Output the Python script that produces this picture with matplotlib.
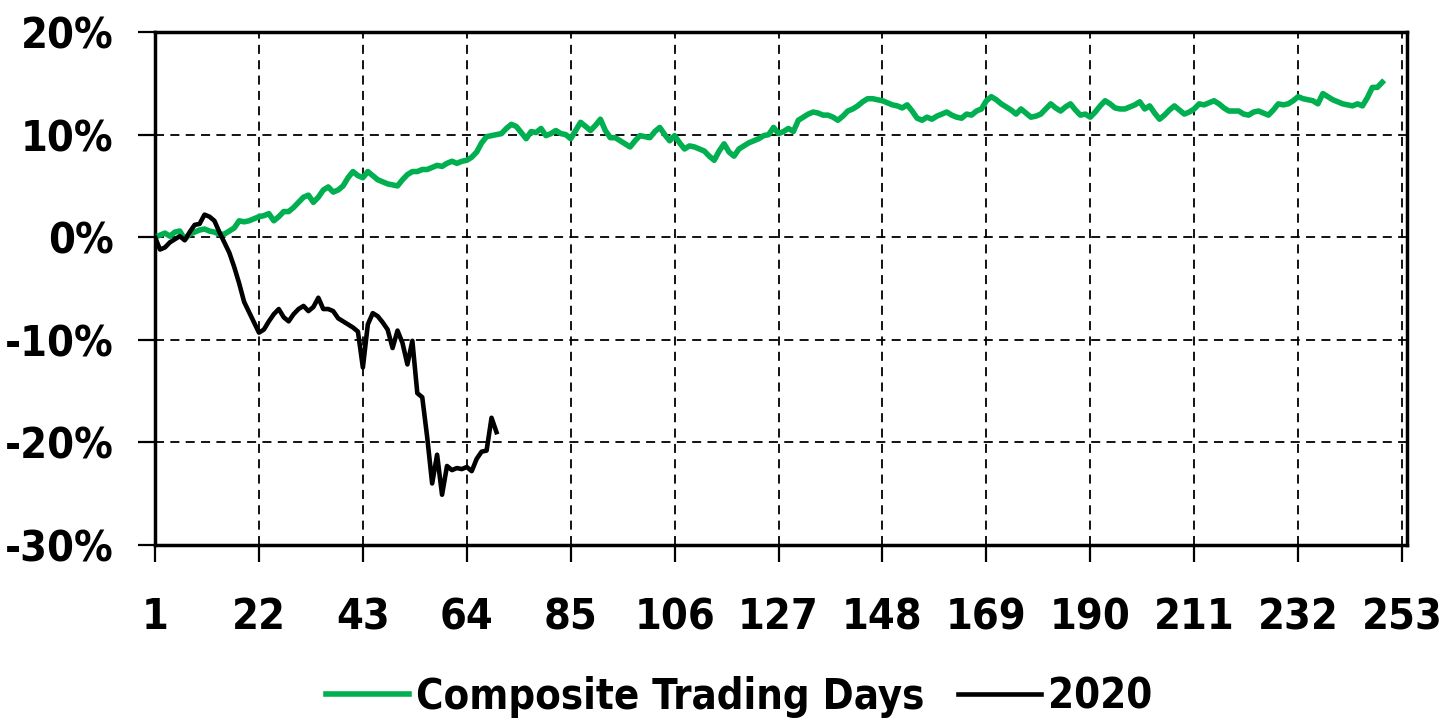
from matplotlib import pyplot as plt
from matplotlib.ticker import PercentFormatter
import numpy

# composite trading days (average path), percent
composite = [
	0.0, 0.2, 0.4, 0.1, 0.5, 0.6, -0.2, 0.3, 0.5, 0.7,
	0.8, 0.6, 0.5, 0.3, 0.3, 0.6, 0.9, 1.6, 1.5, 1.6,
	1.8, 2.0, 2.1, 2.3, 1.6, 2.0, 2.5, 2.5, 2.9, 3.4,
	3.9, 4.1, 3.4, 3.9, 4.6, 4.9, 4.4, 4.6, 5.0, 5.8,
	6.4, 6.0, 5.8, 6.4, 6.0, 5.6, 5.4, 5.2, 5.1, 5.0,
	5.6, 6.1, 6.4, 6.4, 6.6, 6.6, 6.8, 7.0, 6.9, 7.2,
	7.4, 7.2, 7.4, 7.5, 7.8, 8.3, 9.2, 9.8, 9.9, 10.0,
	10.1, 10.6, 11.0, 10.8, 10.2, 9.6, 10.3, 10.2, 10.6, 9.9,
	10.1, 10.4, 10.1, 10.0, 9.6, 10.4, 11.2, 10.8, 10.4, 10.9,
	11.5, 10.4, 9.7, 9.7, 9.4, 9.1, 8.8, 9.4, 9.9, 9.8,
	9.7, 10.3, 10.7, 10.0, 9.4, 9.9, 9.2, 8.6, 8.9, 8.8,
	8.6, 8.4, 7.9, 7.5, 8.4, 9.1, 8.3, 7.9, 8.6, 8.9,
	9.2, 9.4, 9.6, 9.9, 10.0, 10.7, 10.1, 10.3, 10.6, 10.3,
	11.4, 11.7, 12.0, 12.2, 12.1, 11.9, 11.9, 11.7, 11.4, 11.8,
	12.3, 12.5, 12.8, 13.2, 13.5, 13.5, 13.4, 13.3, 13.1, 12.9,
	12.8, 12.6, 12.9, 12.3, 11.6, 11.4, 11.7, 11.5, 11.8, 12.0,
	12.2, 11.9, 11.7, 11.6, 12.0, 11.9, 12.3, 12.5, 13.3, 13.7,
	13.4, 13.0, 12.7, 12.4, 12.0, 12.5, 12.1, 11.7, 11.8, 12.0,
	12.5, 13.0, 12.6, 12.3, 12.7, 13.0, 12.4, 11.9, 12.0, 11.7,
	12.2, 12.8, 13.3, 13.0, 12.6, 12.5, 12.5, 12.7, 12.9, 13.2,
	12.5, 12.8, 12.1, 11.5, 11.9, 12.4, 12.8, 12.4, 12.0, 12.2,
	12.5, 13.0, 12.9, 13.1, 13.3, 13.0, 12.6, 12.3, 12.3, 12.3,
	12.0, 11.9, 12.2, 12.3, 12.1, 11.9, 12.4, 13.0, 12.9, 13.0,
	13.3, 13.7, 13.5, 13.4, 13.3, 13.0, 14.0, 13.7, 13.4, 13.2,
	13.0, 12.9, 12.8, 13.0, 12.8, 13.6, 14.6, 14.6, 15.1]

# 2020 path, percent
y2020 = [
	0.0, -1.2, -1.0, -0.5, -0.2, 0.1, -0.3, 0.5, 1.2, 1.3,
	2.2, 2.0, 1.6, 0.5, -0.5, -1.5, -2.9, -4.5, -6.3, -7.3,
	-8.3, -9.3, -9.0, -8.2, -7.5, -7.0, -7.8, -8.2, -7.5, -7.0,
	-6.7, -7.2, -6.8, -5.9, -7.0, -7.0, -7.2, -7.9, -8.2, -8.5,
	-8.8, -9.2, -12.7, -8.5, -7.4, -7.7, -8.3, -9.0, -10.8, -9.1,
	-10.3, -12.4, -10.1, -15.2, -15.6, -19.5, -24.0, -21.2, -25.1, -22.3,
	-22.7, -22.5, -22.6, -22.4, -22.8, -21.6, -20.9, -20.8, -17.6, -19.0]

x_ticks = list(range(1, 254, 21))
y_ticks = [-30, -20, -10, 0, 10, 20]

plt.rcParams['font.family'] = ['DejaVu Sans']
plt.rcParams['font.stretch'] = 'condensed'
plt.rcParams['font.weight'] = 'bold'
plt.rcParams['axes.unicode_minus'] = False

fig = plt.figure(figsize=(14.49, 7.26), dpi=100)
ax = fig.add_axes([0.1070, 0.2493, 0.8640, 0.7066])

days_c = numpy.arange(1, len(composite) + 1)
days_2 = numpy.arange(1, len(y2020) + 1)

ax.plot(days_c, composite, color='#00B050', lw=4.0, label='Composite Trading Days', zorder=3)
ax.plot(days_2, y2020, color='black', lw=3.3, label='2020', zorder=4)

ax.set_xlim(1, 254)
ax.set_ylim(-30, 20)
ax.set_xticks(x_ticks)
ax.set_yticks(y_ticks)
ax.yaxis.set_major_formatter(PercentFormatter(xmax=100, decimals=0))

ax.grid(True, color='black', linestyle=(0, (5, 3.5)), lw=1.3)
for s in ax.spines.values():
	s.set_linewidth(2.5)
	s.set_color('black')

ax.tick_params(axis='y', labelsize=31, length=12, width=1.6, direction='out', pad=18)
ax.tick_params(axis='x', labelsize=31, length=12, width=1.6, direction='out', pad=25)

l = fig.legend(loc='center', bbox_to_anchor=(0.51, 0.04), ncol=2, fontsize=30,
	frameon=False, handlelength=2.0, handletextpad=0.17, columnspacing=0.8)

fig.savefig('out.png', dpi=100)
